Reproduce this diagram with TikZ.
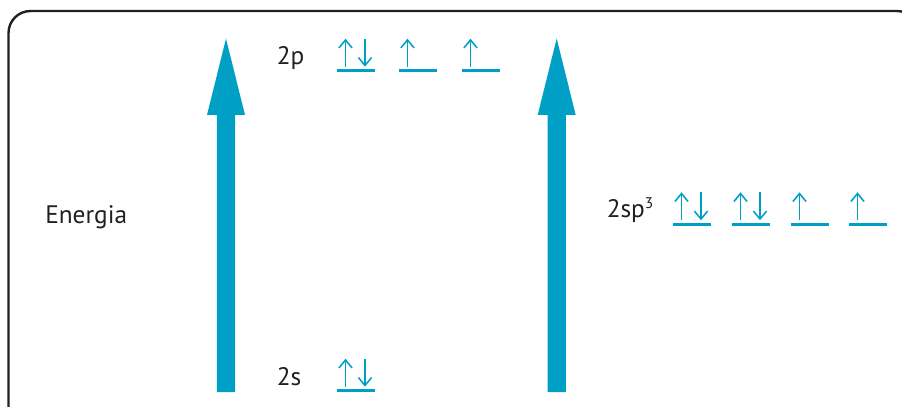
\documentclass[tikz,border=0pt]{standalone}
\usepackage{fontspec}
\setmainfont{PT Sans}
\definecolor{orb}{RGB}{0,160,198}
\definecolor{ink}{RGB}{35,31,32}
\usetikzlibrary{arrows.meta}
\tikzset{
  frame/.style={draw=ink, line width=1.7pt, rounded corners=0.55cm},
  bigarrow/.style={fill=orb, draw=none},
  level/.style={draw=orb, line width=2pt},
  spin/.style={draw=orb, line width=1.1pt, -{Straight Barb[length=2mm,width=3.3mm]}},
  label/.style={font=\fontsize{18}{21}\selectfont, text=ink, inner sep=0pt},
}
% one orbital box: line plus optional up/down spins
\newcommand{\orbbox}[3]{% x, y of the line, 2 = paired, 1 = single
  \draw[level] (#1,#2) -- ++(38,0);
  \draw[spin] (#1+8.5,#2-4) -- (#1+8.5,#2-32);
  \ifnum#3=2 \draw[spin] (#1+28,#2-32) -- (#1+28,#2-4); \fi
}

\begin{document}
\begin{tikzpicture}[x=0.025cm, y=-0.025cm]
        \useasboundingbox (0,0) rectangle (902,407);
        \clip (0,0) rectangle (902,407);
        \draw[frame] (8.5,11) rectangle (919,430);
        % energy axes
        \foreach \xa in {226,556.7}
          \fill[bigarrow] (\xa-9.2,392) -- (\xa-9.2,115) -- (\xa-19,115) -- (\xa,38.5)
                          -- (\xa+19,115) -- (\xa+9.2,115) -- (\xa+9.2,392) -- cycle;
        \node[label, anchor=base west] (energia) at (45,223.3) {Energia};
        % atomic orbitals
        \node[label, anchor=base west] (lvl2p) at (276.5,65) {2p};
        \node[label, anchor=base west] (lvl2s) at (276.5,385) {2s};
        \orbbox{337}{70.7}{2}
        \orbbox{399}{70.7}{1}
        \orbbox{462}{70.7}{1}
        \orbbox{337}{390.7}{2}
        % hybrid orbitals
        \node[label, anchor=base west] (lvlsp) at (606.5,217.5) {2sp\textsuperscript{\fontsize{11}{12}\selectfont 3}};
        \foreach \xo/\n in {673/2, 732/2, 791/1, 849/1}
          {\orbbox{\xo}{224.3}{\n}}
\end{tikzpicture}
\end{document}
